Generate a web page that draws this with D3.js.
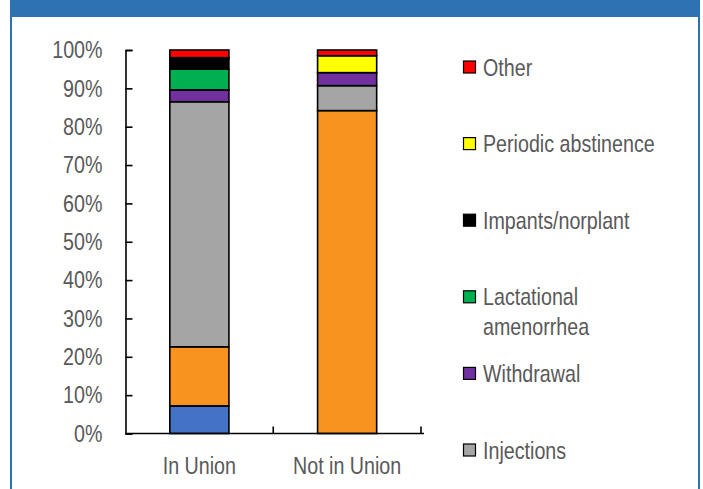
<!DOCTYPE html>
<html>
<head>
<meta charset="utf-8">
<script src="https://cdn.jsdelivr.net/npm/d3@7"></script>
<style>
  body { margin: 0; background: #fff; }
  text { font-family: "Liberation Sans", Arial, sans-serif; fill: #595959; }
</style>
</head>
<body>
<div id="chart"></div>
<script>
// categories and series (bottom of the stack first)
let categories = ["In Union", "Not in Union"];
let methods = ["Female sterilization", "Pill", "Injections", "Withdrawal",
  "Lactational amenorrhea", "Impants/norplant", "Periodic abstinence", "Other"];
let colours = ["#4472c4", "#f7931e", "#a5a5a5", "#7030a0", "#00b050", "#000000", "#ffff00", "#ff0000"];
let inUnion    = [7.2, 15.4, 63.9, 3.1, 5.4, 2.7, 0.3, 2.0];
let notInUnion = [0.0, 84.2, 6.5, 3.4, 0.0, 0.0, 4.4, 1.5];
let yTicks = [0, 10, 20, 30, 40, 50, 60, 70, 80, 90, 100];

let dimensions = {
  width: 703,
  height: 489,
  margin: { top: 50, right: 282, bottom: 55.5, left: 125.5 },
};
dimensions.boundedWidth = dimensions.width - dimensions.margin.left - dimensions.margin.right;
dimensions.boundedHeight = dimensions.height - dimensions.margin.top - dimensions.margin.bottom;

// no narrow font installed, so squeeze the regular one
let squeeze = 0.82;

let rows = categories.map(function (c, i) {
  let row = { category: c };
  let vals = i === 0 ? inUnion : notInUnion;
  methods.forEach(function (m, j) { row[m] = vals[j]; });
  return row;
});

let stacked = d3.stack().keys(methods)(rows);

let svg = d3.select('#chart')
  .append('svg')
  .attr('width', dimensions.width)
  .attr('height', dimensions.height);

// blue frame
let blue = "#2e72b4";
svg.append('rect').attr('x', 10).attr('y', 0).attr('width', 693).attr('height', 17).attr('fill', blue);
svg.append('rect').attr('x', 10).attr('y', 0).attr('width', 2).attr('height', dimensions.height).attr('fill', blue);
svg.append('rect').attr('x', 698).attr('y', 0).attr('width', 2).attr('height', dimensions.height).attr('fill', blue);
svg.append('rect').attr('x', 700).attr('y', 0).attr('width', 3).attr('height', dimensions.height).attr('fill', '#fff');

let bounds = svg.append('g')
  .attr('transform', `translate(${dimensions.margin.left},${dimensions.margin.top})`);

let x = d3.scaleBand()
  .domain(categories)
  .range([0, dimensions.boundedWidth])
  .padding(0);

let y = d3.scaleLinear()
  .domain([0, 100])
  .range([dimensions.boundedHeight, 0]);

let barWidth = x.bandwidth() * 0.4;

// bars
bounds.selectAll('g.layer')
  .data(stacked)
  .enter()
  .append('g')
  .attr('class', 'layer')
  .attr('fill', function (d, i) { return colours[i]; })
  .selectAll('rect')
  .data(function (d) { return d.filter(function (s) { return s[1] - s[0] > 0; }); })
  .enter()
  .append('rect')
  .attr('x', function (d) { return x(d.data.category) + (x.bandwidth() - barWidth) / 2; })
  .attr('y', function (d) { return y(d[1]); })
  .attr('width', barWidth)
  .attr('height', function (d) { return y(d[0]) - y(d[1]); })
  .attr('stroke', '#000')
  .attr('stroke-width', 1.6);

// y axis, ticks pointing inward
let yAxis = bounds.append('g')
  .call(d3.axisLeft(y)
    .tickValues(yTicks)
    .tickSize(-7)
    .tickPadding(23)
    .tickFormat(function (d) { return d + '%'; }));
yAxis.selectAll('path, line').attr('stroke', '#000').attr('stroke-width', 1.6);
yAxis.selectAll('text')
  .attr('font-size', 24)
  .attr('fill', '#595959')
  .attr('x', -23 / squeeze)
  .attr('transform', `scale(${squeeze},1)`)
  .style('font-family', '"Liberation Sans", Arial, sans-serif');

// x axis
let xAxis = bounds.append('g')
  .attr('transform', `translate(0,${dimensions.boundedHeight})`);
xAxis.append('line')
  .attr('x1', 0).attr('x2', dimensions.boundedWidth + 3)
  .attr('stroke', '#000').attr('stroke-width', 1.6);
let boundaries = categories.map(function (c) { return x(c); }).concat([dimensions.boundedWidth]);
xAxis.selectAll('line.tick')
  .data(boundaries.slice(1))
  .enter()
  .append('line')
  .attr('class', 'tick')
  .attr('x1', function (d) { return d; })
  .attr('x2', function (d) { return d; })
  .attr('y1', 0).attr('y2', -7)
  .attr('stroke', '#000').attr('stroke-width', 1.6);
xAxis.selectAll('text')
  .data(categories)
  .enter()
  .append('text')
  .attr('transform', function (d) { return `translate(${x(d) + x.bandwidth() / 2},40) scale(${squeeze},1)`; })
  .attr('text-anchor', 'middle')
  .attr('font-size', 24)
  .text(function (d) { return d; });

// legend (top entry is the top of the stack); the last two entries fall below the crop
let legendLabels = {
  "Lactational amenorrhea": ["Lactational", "amenorrhea"]
};
let legendOrder = methods.slice().reverse().slice(0, 6);
let legend = svg.append('g').attr('transform', 'translate(463,67)');
let item = legend.selectAll('g')
  .data(legendOrder)
  .enter()
  .append('g')
  .attr('transform', function (d, i) { return `translate(0,${i * 76.6})`; });
item.append('rect')
  .attr('x', 0.5).attr('y', -6)
  .attr('width', 12).attr('height', 12)
  .attr('fill', function (d) { return colours[methods.indexOf(d)]; })
  .attr('stroke', '#000')
  .attr('stroke-width', 1.2);
item.append('text')
  .attr('transform', `translate(20,8.5) scale(${squeeze},1)`)
  .attr('font-size', 24)
  .selectAll('tspan')
  .data(function (d) { return legendLabels[d] || [d]; })
  .enter()
  .append('tspan')
  .attr('x', 0)
  .attr('dy', function (d, i) { return i === 0 ? 0 : 30; })
  .text(function (d) { return d; });
</script>
</body>
</html>
